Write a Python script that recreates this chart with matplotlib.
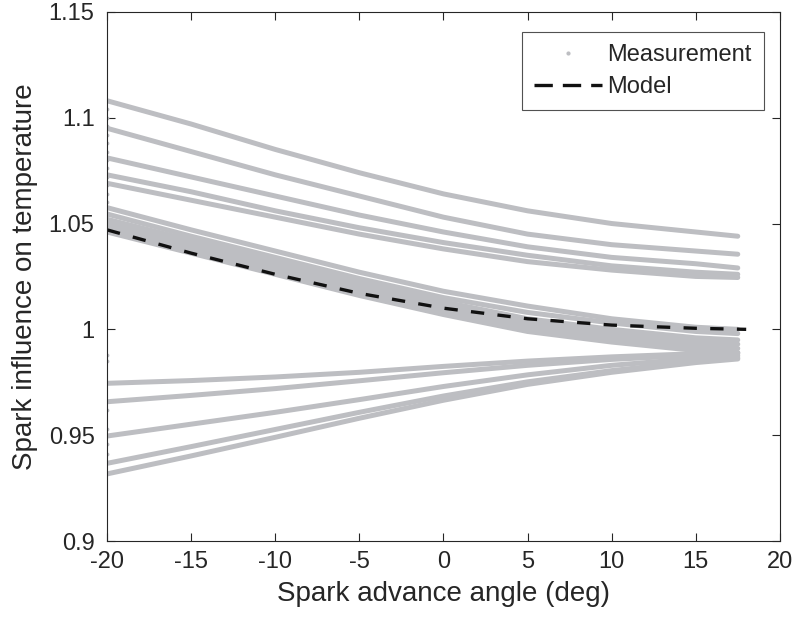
import numpy as np
import matplotlib
matplotlib.use('Agg')
import matplotlib.pyplot as plt
from matplotlib.lines import Line2D

plt.rcParams['font.family'] = ['Liberation Sans', 'DejaVu Sans']
plt.rcParams['axes.unicode_minus'] = False

# spark advance angle (deg) where curves were read
angle = [-20, -15, -10, -5, 0, 5, 10, 15, 17.5]

# measured curves, upper group
meas_upper = [
    [1.108, 1.097, 1.085, 1.074, 1.064, 1.056, 1.050, 1.046, 1.044],
    [1.095, 1.084, 1.073, 1.063, 1.053, 1.045, 1.040, 1.037, 1.0355],
    [1.081, 1.072, 1.063, 1.054, 1.046, 1.039, 1.034, 1.031, 1.029],
    [1.073, 1.065, 1.056, 1.048, 1.041, 1.035, 1.030, 1.027, 1.026],
    [1.069, 1.061, 1.053, 1.045, 1.038, 1.032, 1.028, 1.025, 1.0245],
]
# dense band around the model
meas_band = [
    [1.0575, 1.047, 1.037, 1.027, 1.018, 1.011, 1.005, 1.001, 1.000],
    [1.0545, 1.044, 1.034, 1.024, 1.015, 1.008, 1.003, 0.999, 0.998],
    [1.052, 1.042, 1.032, 1.022, 1.013, 1.005, 1.000, 0.996, 0.995],
    [1.050, 1.040, 1.030, 1.020, 1.011, 1.003, 0.998, 0.994, 0.993],
    [1.048, 1.038, 1.028, 1.018, 1.009, 1.001, 0.996, 0.992, 0.991],
    [1.046, 1.036, 1.026, 1.016, 1.007, 0.999, 0.994, 0.990, 0.989],
]
# lower group
meas_lower = [
    [0.9745, 0.9758, 0.9775, 0.9797, 0.9825, 0.9850, 0.9870, 0.9885, 0.9890],
    [0.9658, 0.9688, 0.9720, 0.9757, 0.9795, 0.9830, 0.9858, 0.9878, 0.9885],
    [0.9496, 0.9552, 0.9608, 0.9668, 0.9730, 0.9785, 0.9830, 0.9862, 0.9875],
    [0.9367, 0.9446, 0.9527, 0.9608, 0.9685, 0.9752, 0.9805, 0.9848, 0.9865],
    [0.9317, 0.9402, 0.9490, 0.9580, 0.9665, 0.9740, 0.9797, 0.9843, 0.9860],
]
# start-up transients seen on the left edge
trans_y = [0.941, 0.946, 0.953, 0.962, 0.985, 0.988,
           1.050, 1.055, 1.060, 1.064, 1.068, 1.072, 1.076, 1.080,
           1.084, 1.088, 1.092, 1.096, 1.100, 1.104]

model_angle = [-20, -15, -10, -5, 0, 5, 10, 15, 18]
model_val = [1.047, 1.036, 1.026, 1.017, 1.010, 1.005, 1.002, 1.0005, 1.000]

gray = '#bdbec2'
ink = '#262626'

fig = plt.figure(figsize=(7.99, 6.24), dpi=100)
ax = fig.add_axes([0.134, 0.133, 0.842, 0.848])

for curve in meas_upper + meas_band + meas_lower:
    ax.plot(angle, curve, color=gray, lw=3.6, solid_capstyle='round')
ax.plot([angle[0]] * len(trans_y), trans_y, '.', color=gray, ms=3.5)

ax.plot(model_angle, model_val, color='#111111', lw=2.4, dashes=(4, 4))

ax.set_xlim(-20, 20)
ax.set_ylim(0.9, 1.15)
ax.set_xticks(np.arange(-20, 21, 5))
ax.set_yticks([0.9, 0.95, 1.0, 1.05, 1.1, 1.15])
ax.set_yticklabels(['0.9', '0.95', '1', '1.05', '1.1', '1.15'])
ax.tick_params(direction='in', length=6, width=0.8, top=True, right=True,
               labelsize=17, colors=ink)
ax.tick_params(axis='x', pad=7)
ax.tick_params(axis='y', pad=9)
for s in ax.spines.values():
    s.set_color(ink)
    s.set_linewidth(0.8)

ax.set_xlabel('Spark advance angle (deg)', fontsize=20, color=ink, labelpad=6)
ax.set_ylabel('Spark influence on temperature', fontsize=20, color=ink, labelpad=8)

handles = [Line2D([], [], ls='none', marker='.', ms=4, color=gray),
           Line2D([], [], color='#111111', lw=2.4, dashes=(5.5, 3))]
leg = ax.legend(handles, ['Measurement', 'Model'], loc='upper right',
                fontsize=17, frameon=True, fancybox=False, handlelength=2.85,
                handletextpad=0.25, borderpad=0.5, borderaxespad=0,
                labelspacing=0.45, bbox_to_anchor=(0.976, 0.962))
leg.get_frame().set_edgecolor(ink)
leg.get_frame().set_linewidth(0.8)
for t in leg.get_texts():
    t.set_color(ink)

fig.savefig('out.png', dpi=100)
